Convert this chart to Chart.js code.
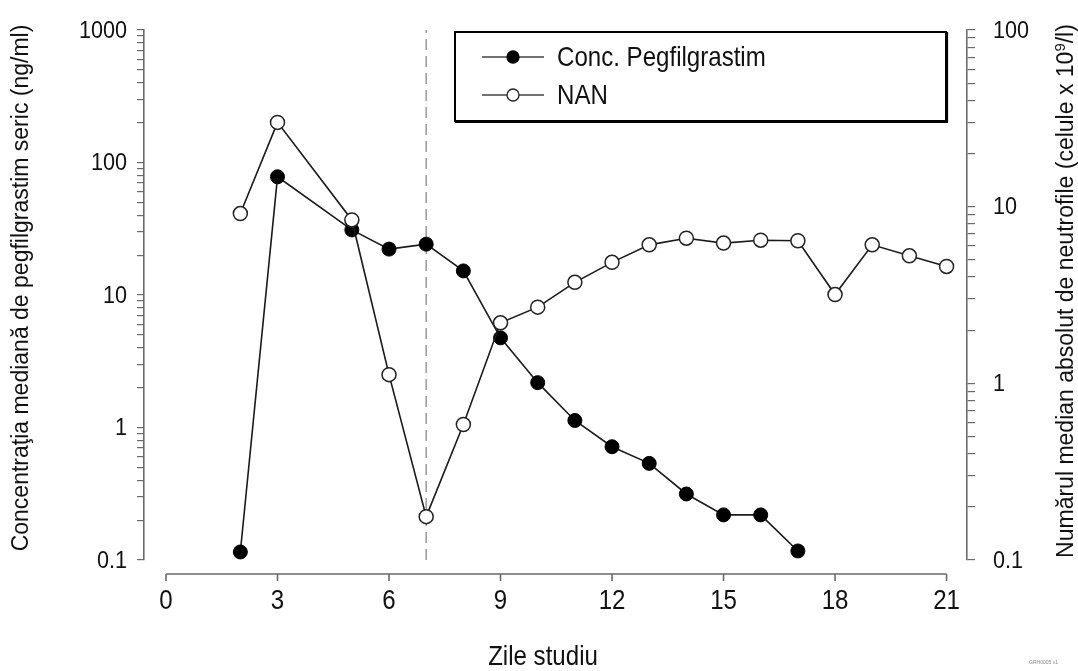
<!DOCTYPE html>
<html>
<head>
<meta charset="utf-8">
<script src="https://cdn.jsdelivr.net/npm/chart.js@4.4.1/dist/chart.umd.min.js"></script>
<style>
  html, body { margin: 0; padding: 0; background: #fff; }
</style>
</head>
<body>
<canvas id="chart" width="1078" height="671"></canvas>
<script>
// study days and median values
const concDays = [2, 3, 5, 6, 7, 8, 9, 10, 11, 12, 13, 14, 15, 16, 17];
const concValues = [0.115, 78, 31, 22.2, 24.2, 15.2, 4.75, 2.18, 1.13, 0.716, 0.536, 0.315, 0.219, 0.219, 0.117];

const nanDays = [2, 3, 5, 6, 7, 8, 9, 10, 11, 12, 13, 14, 15, 16, 17, 18, 19, 20, 21];
const nanValues = [9.14, 30.0, 8.41, 1.12, 0.176, 0.585, 2.20, 2.70, 3.73, 4.84, 6.08, 6.63, 6.22, 6.46, 6.41, 3.18, 6.08, 5.27, 4.59];

// dashed reference day
const markerDay = 7;

const xTicks = [0, 3, 6, 9, 12, 15, 18, 21];
const leftTicks = [0.1, 1, 10, 100, 1000];
const rightTicks = [0.1, 1, 10, 100];

const seriesLabels = ['Conc. Pegfilgrastim', 'NAN'];
const xTitle = 'Zile studiu';
const leftTitle = 'Concentraţia mediană de pegfilgrastim seric (ng/ml)';
const rightTitle = ['Numărul median absolut de neutrofile (celule x 10', '9', '/l)'];
const footNote = 'GRH0005 v1';

const REGULAR = "'Liberation Sans', Arial, sans-serif";
const AXIS_GREY = '#6a6a6a';
const NARROW_X = 0.86; // no narrow face installed, squeeze Liberation Sans instead

// 1..9 x each decade, so the log axes get their minor ticks
const decadeTicks = majors => {
  const out = [];
  majors.forEach((m, i) => {
    if (i === majors.length - 1) { out.push(m); return; }
    for (let k = 1; k < 10; k++) out.push(m * k);
  });
  return out;
};

const toPoints = (days, vals) => days.map((d, i) => ({ x: d, y: vals[i] }));

// draws text horizontally condensed, Arial Narrow look
const narrowText = (ctx, text, x, y, size, align, squeeze = NARROW_X) => {
  ctx.save();
  ctx.translate(x, y);
  ctx.scale(squeeze, 1);
  ctx.font = `${size}px ${REGULAR}`;
  ctx.textAlign = align;
  ctx.textBaseline = 'middle';
  ctx.fillText(text, 0, 0);
  ctx.restore();
};

// x axis sits a little below the plot, like the original
const xAxisLine = {
  id: 'xAxisLine',
  beforeDatasetsDraw(chart) {
    const { ctx } = chart;
    const sx = chart.scales.x;
    const y = chart.chartArea.bottom + 14;
    ctx.save();
    ctx.strokeStyle = AXIS_GREY;
    ctx.lineWidth = 1.6;
    ctx.beginPath();
    ctx.moveTo(sx.getPixelForValue(xTicks[0]), y);
    ctx.lineTo(sx.getPixelForValue(xTicks[xTicks.length - 1]), y);
    xTicks.forEach(v => {
      const px = sx.getPixelForValue(v);
      ctx.moveTo(px, y);
      ctx.lineTo(px, y + 7);
    });
    ctx.stroke();
    ctx.restore();
  }
};

// tick labels placed from the chart's scales
const tickLabels = {
  id: 'tickLabels',
  afterDraw(chart) {
    const { ctx, chartArea } = chart;
    const { x: sx, y: sy, y2: sy2 } = chart.scales;
    ctx.save();
    ctx.fillStyle = '#111';
    xTicks.forEach(v => narrowText(ctx, String(v), sx.getPixelForValue(v), chartArea.bottom + 41, 28, 'center'));
    leftTicks.forEach(v => narrowText(ctx, String(v), chartArea.left - 17, sy.getPixelForValue(v) + 1, 24, 'right', 0.9));
    rightTicks.forEach(v => narrowText(ctx, String(v), chartArea.right + 26, sy2.getPixelForValue(v) + 1, 24, 'left', 0.9));
    ctx.restore();
  }
};

const axisTitles = {
  id: 'axisTitles',
  afterDraw(chart) {
    const { ctx } = chart;
    ctx.save();
    ctx.fillStyle = '#111';
    ctx.textBaseline = 'alphabetic';

    // left title, reads bottom to top
    ctx.save();
    ctx.font = `23px ${REGULAR}`;
    ctx.textAlign = 'center';
    ctx.translate(28, 288);
    ctx.rotate(-Math.PI / 2);
    ctx.fillText(leftTitle, 0, 0);
    ctx.restore();

    // right title, also bottom to top, with the superscript 9
    ctx.save();
    ctx.translate(1073, 291);
    ctx.rotate(-Math.PI / 2);
    ctx.textAlign = 'left';
    const big = `23px ${REGULAR}`, small = `15px ${REGULAR}`;
    ctx.font = big; const w1 = ctx.measureText(rightTitle[0]).width;
    ctx.font = small; const w2 = ctx.measureText(rightTitle[1]).width;
    ctx.font = big; const w3 = ctx.measureText(rightTitle[2]).width;
    const x0 = -(w1 + w2 + w3) / 2;
    ctx.fillText(rightTitle[0], x0, 0);
    ctx.font = small; ctx.fillText(rightTitle[1], x0 + w1, -8);
    ctx.font = big; ctx.fillText(rightTitle[2], x0 + w1 + w2, 0);
    ctx.restore();

    // bottom title
    narrowText(ctx, xTitle, 543, 657, 28, 'center');

    ctx.font = `5px ${REGULAR}`;
    ctx.fillStyle = '#888';
    ctx.textAlign = 'right';
    ctx.fillText(footNote, 1058, 664);
    ctx.restore();
  }
};

// framed legend, line with marker like the original
const boxLegend = {
  id: 'boxLegend',
  afterDraw(chart) {
    const { ctx } = chart;
    ctx.save();
    ctx.fillStyle = '#fff';
    ctx.fillRect(455, 32, 491, 89);
    ctx.strokeStyle = '#000';
    ctx.lineWidth = 2;
    ctx.strokeRect(455, 32, 491, 89);
    ctx.lineWidth = 1.2;
    ctx.beginPath();
    ctx.moveTo(947.5, 32); ctx.lineTo(947.5, 122.5); ctx.lineTo(455, 122.5);
    ctx.stroke();

    chart.data.datasets.slice(0, 2).forEach((ds, i) => {
      const y = 57 + i * 38;
      ctx.strokeStyle = '#444';
      ctx.lineWidth = 1.5;
      ctx.beginPath();
      ctx.moveTo(482, y); ctx.lineTo(544, y);
      ctx.stroke();
      ctx.beginPath();
      ctx.arc(513, y, 6, 0, Math.PI * 2);
      ctx.fillStyle = ds.pointBackgroundColor;
      ctx.fill();
      ctx.strokeStyle = ds.pointBorderColor;
      ctx.lineWidth = 1.3;
      ctx.stroke();
      ctx.fillStyle = '#111';
      narrowText(ctx, ds.label, 557, y + 1, 28, 'left');
    });
    ctx.restore();
  }
};

new Chart(document.getElementById('chart'), {
  type: 'line',
  data: {
    datasets: [
      {
        label: seriesLabels[0],
        data: toPoints(concDays, concValues),
        yAxisID: 'y',
        borderColor: '#1a1a1a',
        borderWidth: 1.6,
        pointRadius: 7,
        pointBackgroundColor: '#000',
        pointBorderColor: '#000',
        pointBorderWidth: 1,
        clip: 10,
        order: 1
      },
      {
        label: seriesLabels[1],
        data: toPoints(nanDays, nanValues),
        yAxisID: 'y2',
        borderColor: '#1a1a1a',
        borderWidth: 1.6,
        pointRadius: 7,
        pointBackgroundColor: '#fff',
        pointBorderColor: '#222',
        pointBorderWidth: 1.5,
        clip: 10,
        order: 0
      },
      {
        label: 'ref',
        data: [{ x: markerDay, y: leftTicks[0] }, { x: markerDay, y: leftTicks[leftTicks.length - 1] }],
        yAxisID: 'y',
        borderColor: '#9a9a9a',
        borderWidth: 1.5,
        borderDash: [11, 6],
        pointRadius: 0,
        order: 2
      }
    ]
  },
  options: {
    responsive: false,
    animation: false,
    layout: { padding: { top: 30, left: 0, right: 0, bottom: 0 } },
    plugins: {
      legend: { display: false },
      tooltip: { enabled: false }
    },
    scales: {
      x: {
        type: 'linear',
        min: -0.592,
        max: 21.55,
        afterBuildTicks: s => { s.ticks = xTicks.map(v => ({ value: v })); },
        afterFit: s => { s.height = 111; },
        grid: { display: false, drawTicks: false },
        border: { display: false },
        ticks: { display: false }
      },
      y: {
        type: 'logarithmic',
        position: 'left',
        min: leftTicks[0],
        max: leftTicks[leftTicks.length - 1],
        afterBuildTicks: s => { s.ticks = decadeTicks(leftTicks).map(v => ({ value: v })); },
        afterFit: s => { s.width = 144; },
        grid: { drawOnChartArea: false, drawTicks: true, tickLength: 7, color: AXIS_GREY, lineWidth: 1.2 },
        border: { display: true, color: AXIS_GREY, width: 1.6 },
        ticks: { display: false, autoSkip: false }
      },
      y2: {
        type: 'logarithmic',
        position: 'right',
        min: rightTicks[0],
        max: rightTicks[rightTicks.length - 1],
        afterBuildTicks: s => { s.ticks = decadeTicks(rightTicks).map(v => ({ value: v })); },
        afterFit: s => { s.width = 111; },
        grid: { drawOnChartArea: false, drawTicks: true, tickLength: 8, color: AXIS_GREY, lineWidth: 1.2 },
        border: { display: true, color: AXIS_GREY, width: 1.6 },
        ticks: { display: false, autoSkip: false }
      }
    }
  },
  plugins: [xAxisLine, tickLabels, axisTitles, boxLegend]
});
</script>
</body>
</html>
